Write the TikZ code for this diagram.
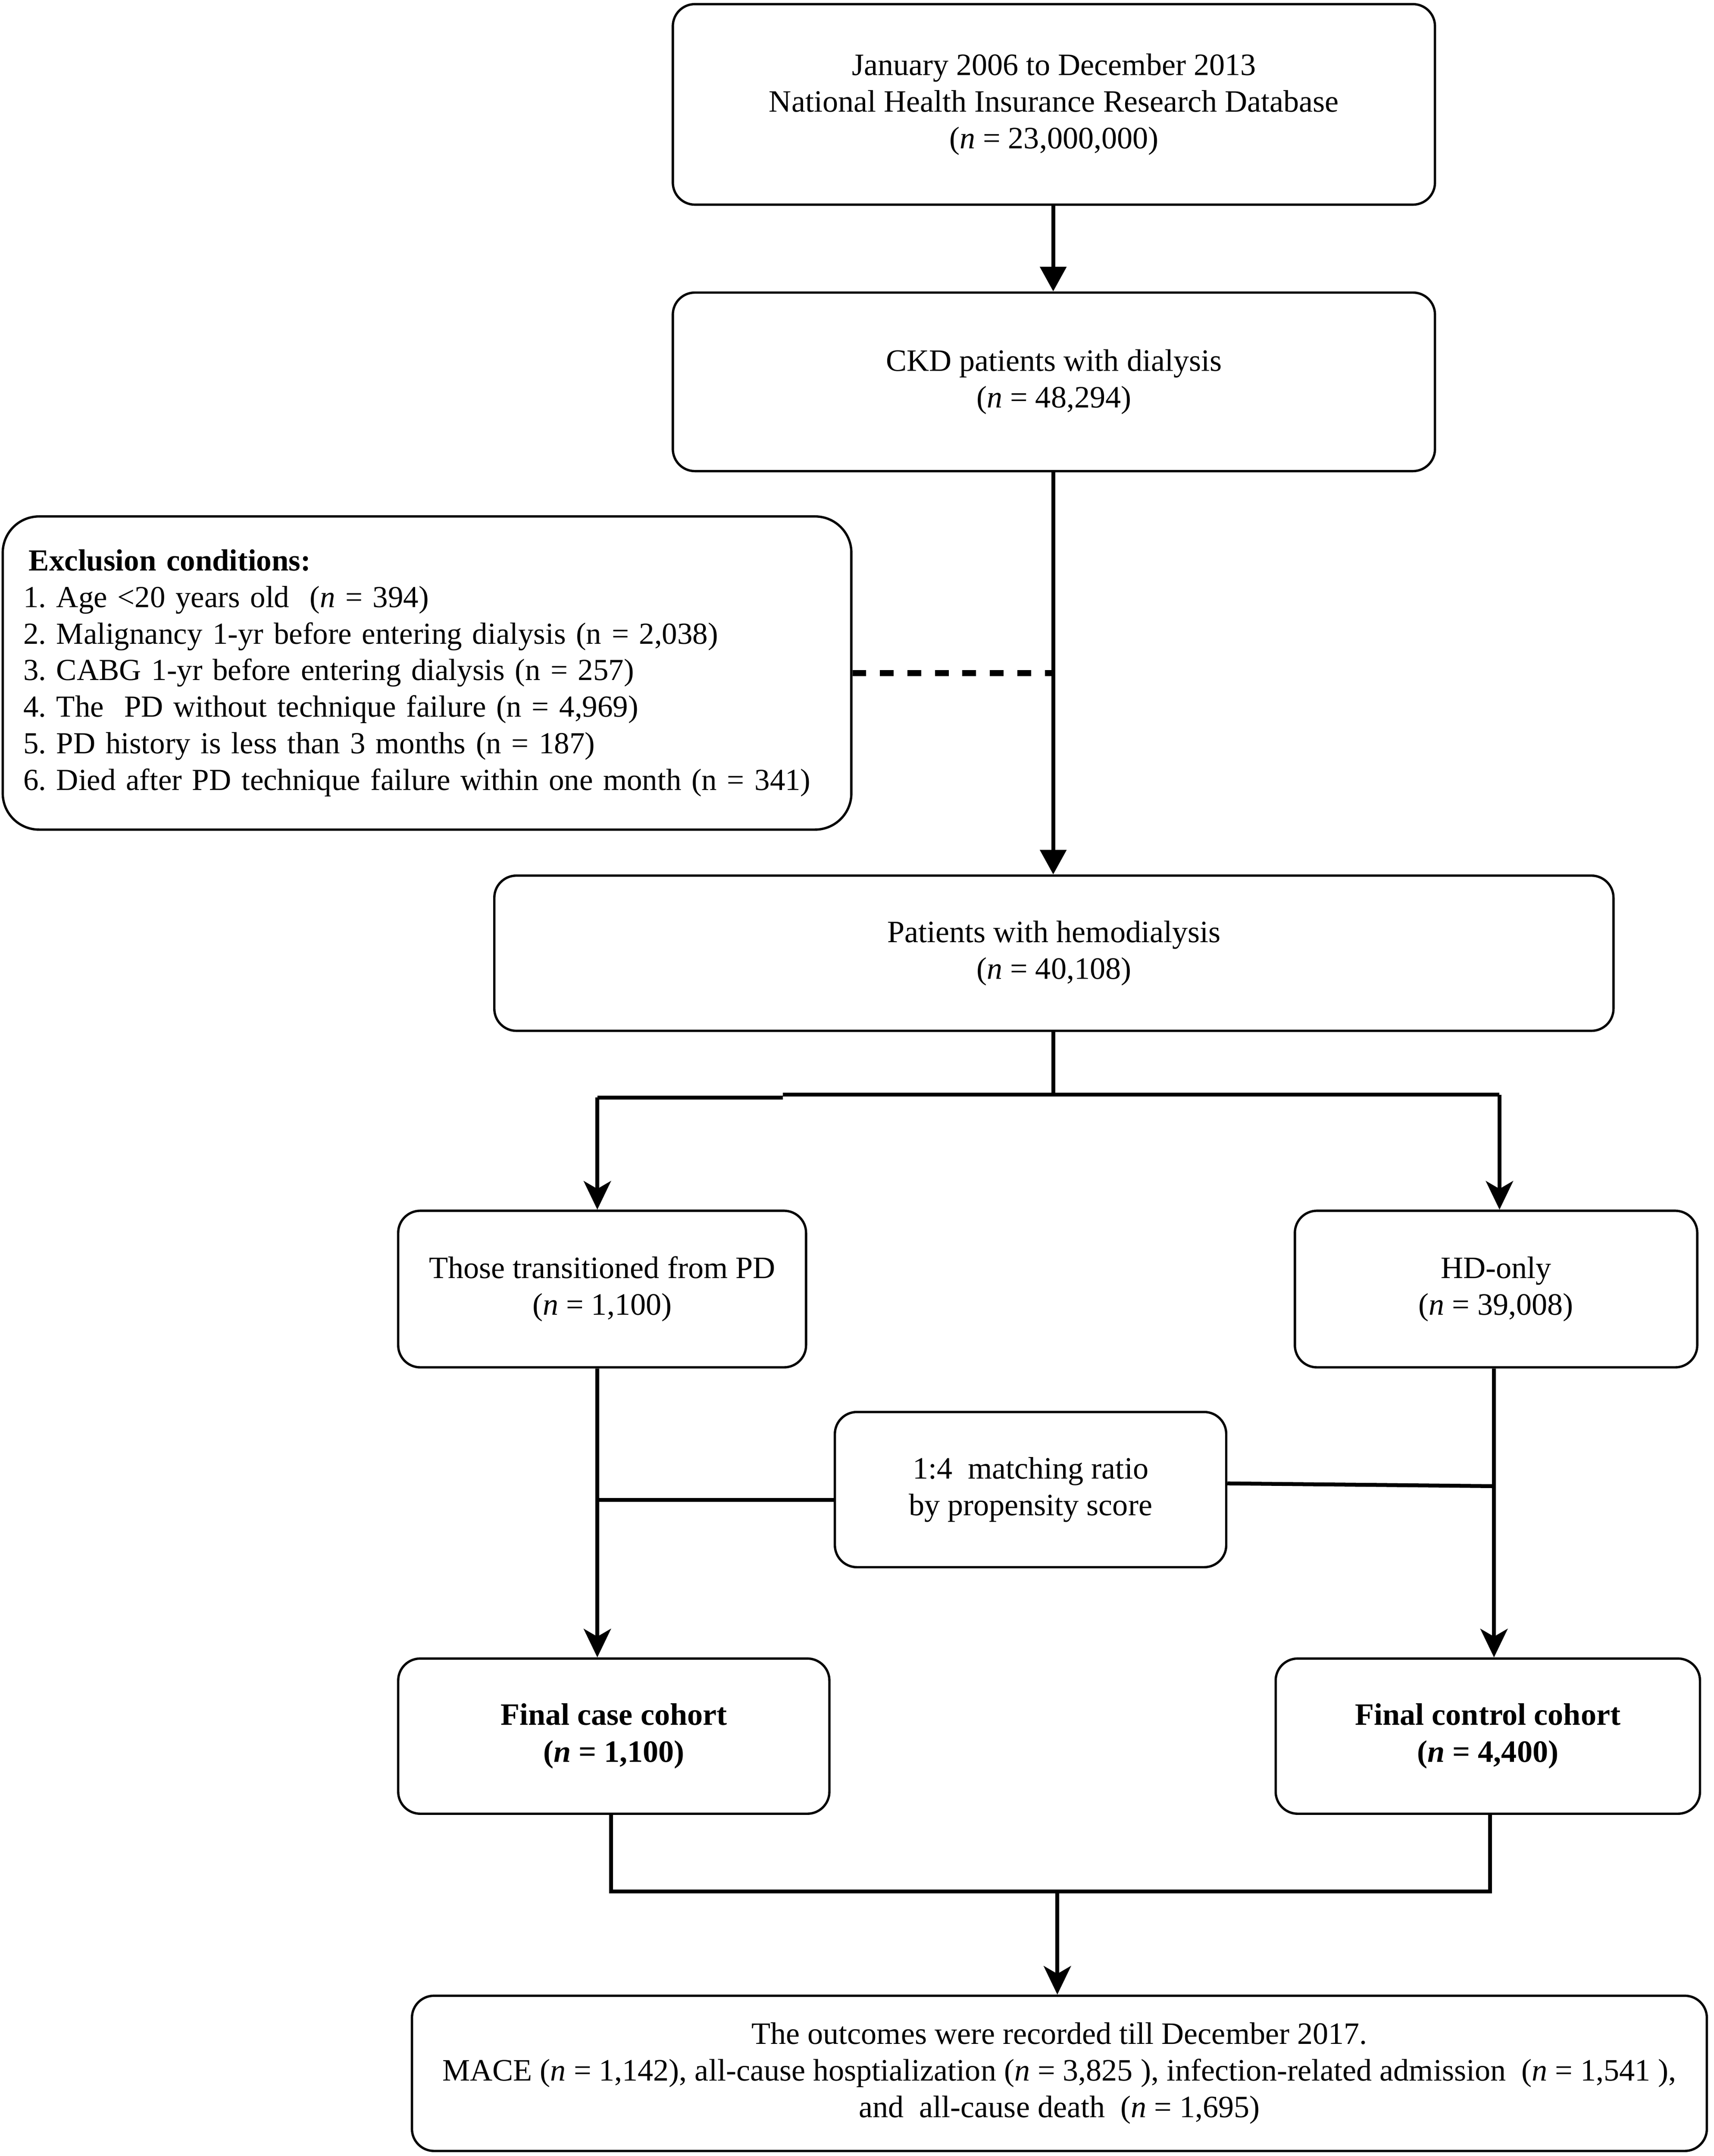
\documentclass[tikz,border=0pt]{standalone}
\usepackage{fontspec}
\setmainfont{Liberation Serif}
\usetikzlibrary{arrows.meta}
\newlength\unitpx
\setlength\unitpx{0.53pt}
\frenchspacing
\begin{document}
\begin{tikzpicture}[x=0.53pt,y=-0.53pt,
  box/.style={draw, line width=0.9pt, rounded corners=8.5pt, align=center, inner sep=0pt,
    font=\fontsize{12}{14.2}\selectfont},
  conn/.style={line width=1.5pt},
  arr/.style={line width=1.5pt, -{Stealth[length=11pt,width=10.5pt,inset=3pt]}},
  tarr/.style={line width=1.5pt, -{Triangle[length=9.5pt,width=10pt]}},
  dconn/.style={line width=2.3pt, dash pattern=on 5.3pt off 5.3pt}]
\useasboundingbox (0,0) rectangle (1248,1569.7);
\fill[white] (0,0) rectangle (1248,1569.7);

\node[box, minimum width=555\unitpx, minimum height=146\unitpx] (top) at (767.5,76)
  {January 2006 to December 2013\\National Health Insurance Research Database\\(\textit{n} = 23,000,000)};
\node[box, minimum width=555\unitpx, minimum height=130\unitpx] (ckd) at (767.5,278)
  {CKD patients with dialysis\\(\textit{n} = 48,294)};
\node[box, rounded corners=14pt, minimum width=618\unitpx, minimum height=228\unitpx,
  text width=588\unitpx, align=left, inner xsep=15\unitpx,
  font=\fontsize{11.8}{14.1}\selectfont] (excl) at (311,490)
  {\hspace*{4\unitpx}\textbf{Exclusion conditions:}\\
   1. Age <20 years old \ (\textit{n} = 394)\\
   2. Malignancy 1-yr before entering dialysis (n = 2,038)\\
   3. CABG 1-yr before entering dialysis (n = 257)\\
   4. The \ PD without technique failure (n = 4,969)\\
   5. PD history is less than 3 months (n = 187)\\
   6. Died after PD technique failure within one month (n = 341)};
\node[box, minimum width=815\unitpx, minimum height=113\unitpx] (hemo) at (767.5,694)
  {Patients with hemodialysis\\(\textit{n} = 40,108)};
\node[box, minimum width=297\unitpx, minimum height=114\unitpx] (pd) at (438.5,938.5)
  {Those transitioned from PD\\(\textit{n} = 1,100)};
\node[box, minimum width=293\unitpx, minimum height=114\unitpx] (hd) at (1089.5,938.5)
  {HD-only\\(\textit{n} = 39,008)};
\node[box, minimum width=285\unitpx, minimum height=113\unitpx] (match) at (750.5,1084.5)
  {1:4 \ matching ratio\\by propensity score};
\node[box, minimum width=314\unitpx, minimum height=113\unitpx] (case) at (447,1264)
  {\textbf{Final case cohort}\\\textbf{(\textit{n} = 1,100)}};
\node[box, minimum width=309\unitpx, minimum height=113\unitpx] (control) at (1083.5,1264)
  {\textbf{Final control cohort}\\\textbf{(\textit{n} = 4,400)}};
\node[box, minimum width=943\unitpx, minimum height=113\unitpx] (outcome) at (771.5,1509.5)
  {The outcomes were recorded till December 2017.\\
   MACE (\textit{n} = 1,142), all-cause hosptialization (\textit{n} = 3,825 ), infection-related admission \ (\textit{n} = 1,541 ),\\
   and \ all-cause death \ (\textit{n} = 1,695)};

% coordinates
\coordinate (ex) at (767,490);
\coordinate (br) at (767,797);
\coordinate (bl) at (435,799);
\coordinate (bm) at (570,797);
\coordinate (brr) at (1092,797);
\coordinate (ml) at (435,1092);
\coordinate (mr) at (1088,1082);
\coordinate (hx) at (1088,1000);
\coordinate (jl) at (445,1377);
\coordinate (jr) at (1085,1377);
\coordinate (jm) at (770,1377);

% connectors
\draw[tarr] (top.south -| ex) -- (ex |- ckd.north);
\draw[tarr] (ckd.south -| ex) -- (ex |- hemo.north);
\draw[dconn] (excl.east) -- (ex);
\draw[conn] (hemo.south -| br) -- (br);
\draw[conn] (bl) -- (bl -| bm);
\draw[conn] (bm) -- (brr);
\draw[arr] (bl) -- (bl |- pd.north);
\draw[arr] (brr) -- (brr |- hd.north);
\draw[arr] (pd.south -| bl) -- (bl |- case.north);
\draw[conn] (ml) -- (ml -| match.west);
\draw[conn] ([yshift=4.5\unitpx]match.east) -- (mr);
\draw[arr] (hd.south -| hx) -- (hx |- control.north);
\draw[conn] (case.south -| jl) -- (jl) -- (jr) -- (jr |- control.south);
\draw[arr] (jm) -- (jm |- outcome.north);
\end{tikzpicture}
\end{document}
